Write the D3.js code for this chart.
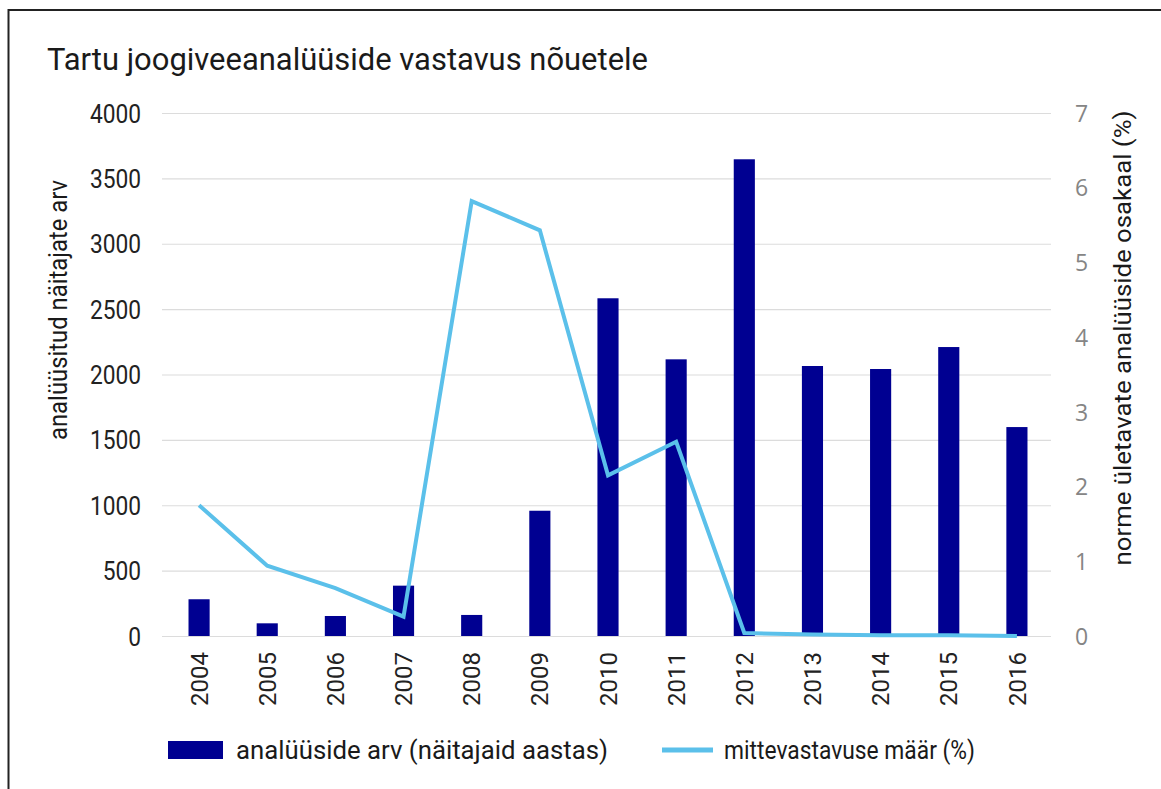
<!DOCTYPE html>
<html>
<head>
<meta charset="utf-8">
<style>
  body { margin: 0; background: #fff; }
  svg { display: block; }
  .grid line { stroke: #dcdcdc; stroke-width: 1.2; }
  .grid .domain { display: none; }
  .axis .domain { display: none; }
  .axis line { display: none; }
  .left text, .bottom text { font-family: Roboto, sans-serif; fill: #222; }
  .right text { font-family: "Open Sans", sans-serif; fill: #858585; }
  .title { font-family: Roboto, sans-serif; fill: #1a1a1a; }
  .label, .legend text { font-family: Roboto, sans-serif; fill: #1a1a1a; }
</style>
</head>
<body>
<script src="https://cdn.jsdelivr.net/npm/d3@7/dist/d3.min.js"></script>
<script>
  const years = ['2004', '2005', '2006', '2007', '2008', '2009', '2010',
                 '2011', '2012', '2013', '2014', '2015', '2016'];
  const analyses = [281, 97, 153, 385, 161, 958, 2583, 2116, 3646, 2065, 2042, 2210, 1598];
  const failRate = [1.75, 0.94, 0.64, 0.26, 5.82, 5.43, 2.15, 2.6, 0.04, 0.02, 0.01, 0.01, 0.0];
  const leftTicks = [0, 500, 1000, 1500, 2000, 2500, 3000, 3500, 4000];
  const rightTicks = [0, 1, 2, 3, 4, 5, 6, 7];

  const W = 1161, H = 789;
  const l = 165, r = 1051, t = 113, b = 636;
  const sx = 0.91; // squeeze for the narrow axis font

  const svg = d3.select('body').append('svg')
    .attr('width', W)
    .attr('height', H);

  // frame (cut off on right and bottom)
  svg.append('rect')
    .attr('x', 8.5).attr('y', 10)
    .attr('width', W + 20).attr('height', H + 20)
    .attr('fill', 'none')
    .attr('stroke', '#222')
    .attr('stroke-width', 2);

  const x = d3.scaleBand().domain(years).range([l, r])
    .paddingInner(0.69).paddingOuter(0.345);
  const y = d3.scaleLinear().domain([0, 4000]).range([b, t]);
  const y2 = d3.scaleLinear().domain([0, 7]).range([b, t]);

  // gridlines
  svg.append('g')
    .attr('class', 'grid')
    .attr('transform', `translate(${r}, 0)`)
    .call(d3.axisLeft(y).tickValues(leftTicks).tickSize(r - 162).tickFormat(''));

  // left axis
  svg.append('g')
    .attr('class', 'axis left')
    .attr('transform', `translate(${l}, 0)`)
    .call(d3.axisLeft(y).tickValues(leftTicks).tickFormat(d3.format('d')).tickSize(0))
    .selectAll('text')
    .attr('font-size', 25)
    .attr('x', -24 / sx)
    .attr('transform', `scale(${sx}, 1)`)
    .attr('dy', '0.36em');

  // right axis
  svg.append('g')
    .attr('class', 'axis right')
    .attr('transform', `translate(${r}, 0)`)
    .call(d3.axisRight(y2).tickValues(rightTicks).tickFormat(d3.format('d')).tickSize(0).tickPadding(24))
    .selectAll('text')
    .attr('font-size', 23)
    .attr('dy', '0.36em');

  // bottom axis
  svg.append('g')
    .attr('class', 'axis bottom')
    .attr('transform', `translate(0, ${b})`)
    .call(d3.axisBottom(x).tickSize(0).tickPadding(0))
    .selectAll('text')
    .attr('font-size', 24)
    .attr('text-anchor', 'end')
    .attr('transform', 'rotate(-90)')
    .attr('x', -16)
    .attr('y', 0)
    .attr('dy', '0.36em');

  // bars
  svg.append('g')
    .selectAll('rect')
    .data(years)
    .join('rect')
    .attr('x', d => x(d))
    .attr('width', x.bandwidth())
    .attr('y', (d, i) => y(analyses[i]))
    .attr('height', (d, i) => b - y(analyses[i]))
    .attr('fill', '#000091');

  // line
  const line = d3.line()
    .x((d, i) => x(years[i]) + x.bandwidth() / 2)
    .y(d => y2(d));
  svg.append('path')
    .datum(failRate)
    .attr('d', line)
    .attr('fill', 'none')
    .attr('stroke', '#5bc0ea')
    .attr('stroke-width', 4)
    .attr('stroke-linejoin', 'miter');

  // title
  svg.append('text')
    .attr('class', 'title')
    .attr('x', 47).attr('y', 70)
    .attr('font-size', 32)
    .attr('textLength', 601)
    .attr('lengthAdjust', 'spacingAndGlyphs')
    .text('Tartu joogiveeanalüüside vastavus nõuetele');

  // axis titles
  svg.append('text')
    .attr('class', 'label')
    .attr('transform', 'translate(67, 310) rotate(-90)')
    .attr('text-anchor', 'middle')
    .attr('font-size', 26)
    .attr('textLength', 260)
    .attr('lengthAdjust', 'spacingAndGlyphs')
    .text('analüüsitud näitajate arv');

  svg.append('text')
    .attr('class', 'label')
    .attr('transform', 'translate(1131, 338) rotate(-90)')
    .attr('text-anchor', 'middle')
    .attr('font-size', 24)
    .attr('textLength', 455)
    .attr('lengthAdjust', 'spacingAndGlyphs')
    .text('norme ületavate analüüside osakaal (%)');

  // legend
  const legend = svg.append('g').attr('class', 'legend');
  legend.append('rect')
    .attr('x', 168).attr('y', 741)
    .attr('width', 55).attr('height', 18)
    .attr('fill', '#000091');
  legend.append('text')
    .attr('x', 236).attr('y', 759)
    .attr('font-size', 26)
    .attr('textLength', 372)
    .attr('lengthAdjust', 'spacingAndGlyphs')
    .text('analüüside arv (näitajaid aastas)');
  legend.append('line')
    .attr('x1', 662).attr('x2', 713)
    .attr('y1', 750).attr('y2', 750)
    .attr('stroke', '#5bc0ea')
    .attr('stroke-width', 5);
  legend.append('text')
    .attr('x', 724).attr('y', 759)
    .attr('font-size', 26)
    .attr('textLength', 251)
    .attr('lengthAdjust', 'spacingAndGlyphs')
    .text('mittevastavuse määr (%)');
</script>
</body>
</html>
